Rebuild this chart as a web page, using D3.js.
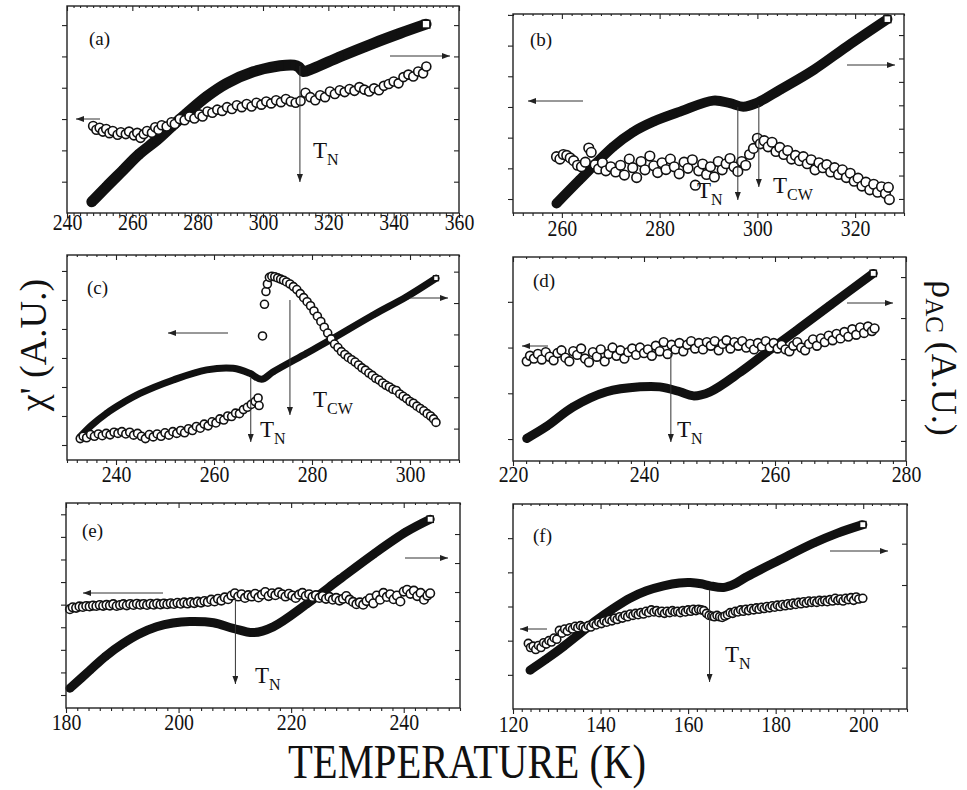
<!DOCTYPE html>
<html><head><meta charset="utf-8">
<script src="https://cdn.jsdelivr.net/npm/d3@7"></script>
<style>
body{margin:0;background:#fff}
</style>
</head><body>
<svg id="c" width="967" height="790" font-family="Liberation Serif"></svg>
<script>
// ---------------- DATA (T in K, values in arbitrary units) ----------------
const rhoA=[[247.6,0.36],[252,0.83],[257.2,1.37],[262,1.87],[267.5,2.33],[272,2.76],[276.6,3.18],[282.8,3.72],[288.9,4.14],[297,4.51],[305.2,4.70],[309.5,4.72],[311,4.66],[312.3,4.52],[315.4,4.62],[323.6,4.99],[333.8,5.42],[342,5.74],[349.9,6.03]];
const chiA=[[248,2.78],[249,2.66],[250,2.72],[251,2.60],[252,2.68],[253,2.55],[254,2.62],[255.5,2.50],[256.5,2.58],[258,2.52],[259,2.60],[260.5,2.48],[261.5,2.56],[262.5,2.40],[263.5,2.52],[264.5,2.62],[266,2.56],[267,2.74],[268,2.66],[269,2.80],[270.5,2.76],[272,2.90],[273,2.84],[274.5,3.00],[276,2.96],[277.5,3.08],[279,3.02],[280.5,3.15],[281.5,3.08],[283,3.24],[284.5,3.20],[286,3.30],[287.5,3.26],[289,3.38],[290.5,3.32],[292,3.44],[293.5,3.38],[295,3.48],[296.5,3.40],[298,3.52],[299.5,3.46],[301,3.56],[302.5,3.50],[304,3.60],[305.5,3.54],[307,3.64],[308.5,3.56],[310,3.52],[311.5,3.58],[313,3.84],[314.5,3.70],[316,3.60],[317.5,3.76],[319,3.70],[320.5,3.88],[322,3.80],[323.5,3.92],[325,3.86],[326.5,3.96],[328,3.90],[329.5,4.02],[331,3.94],[332.5,3.88],[334,3.98],[335.5,3.92],[337,4.06],[338.5,4.12],[340,4.20],[341.5,4.14],[343,4.34],[344.5,4.42],[346,4.36],[347.5,4.52],[349,4.46],[350,4.68]];

const rhoB=[[258.9,-0.19],[263.6,0.81],[270.5,2.23],[274.5,2.85],[278.7,3.30],[284.2,3.73],[291,4.20],[294.4,4.09],[297.1,3.94],[299.8,4.09],[304.6,4.66],[311.5,5.51],[318.3,6.51],[326.6,7.68]];
const chiB=[[258.9,1.38],[259.6,1.30],[260.3,1.45],[261,1.42],[261.7,1.34],[262.4,1.25],[263.2,1.10],[264,1.05],[264.8,1.20],[265.5,1.66],[266,1.52],[266.8,1.12],[267.5,0.98],[268.3,1.18],[269,0.92],[270,1.05],[271,0.88],[272,1.10],[272.8,0.78],[273.8,1.30],[274.5,1.02],[275.3,0.70],[276.2,1.22],[277,0.95],[278,1.40],[278.8,1.08],[279.6,0.86],[280.5,1.18],[281.3,0.96],[282.2,1.30],[283,1.05],[284,0.82],[285,1.20],[285.8,1.00],[286.7,1.28],[287.3,0.45],[288,0.92],[288.8,1.14],[289.6,0.80],[290.4,1.05],[291.2,0.72],[292,1.22],[292.8,0.95],[293.6,1.15],[294.4,1.32],[295.2,1.05],[296,0.90],[296.8,1.22],[297.6,1.10],[298.4,1.45],[299.2,1.65],[300,1.98],[300.6,1.80],[301.4,1.90],[302.2,1.70],[303,1.85],[303.8,1.55],[304.6,1.68],[305.4,1.45],[306.2,1.58],[307,1.30],[307.8,1.42],[308.6,1.25],[309.4,1.38],[310.2,1.15],[311,1.28],[311.8,0.95],[312.6,1.18],[313.4,1.02],[314.2,1.12],[315,0.88],[315.8,1.02],[316.6,0.80],[317.4,0.95],[318.2,0.70],[319,0.84],[319.8,0.58],[320.6,0.68],[321.4,0.42],[322.2,0.55],[323,0.30],[323.8,0.48],[324.6,0.22],[325.4,0.40],[326.2,0.18],[326.8,0.38],[327,-0.02]];

const rhoC=[[232.7,0.74],[235,1.10],[238.1,1.49],[241.5,1.83],[244.9,2.12],[251.7,2.55],[258.5,2.87],[263.9,2.92],[267.3,2.76],[269.7,2.57],[272.1,2.81],[278.9,3.40],[283.7,3.82],[292.5,4.62],[299.3,5.20],[305.3,5.79]];
const chiC=[[232.7,0.22],[233.3,0.30],[234,0.25],[234.8,0.36],[235.6,0.30],[236.4,0.38],[237.2,0.32],[238,0.40],[238.8,0.35],[239.6,0.44],[240.4,0.40],[241.2,0.46],[242,0.38],[242.8,0.44],[243.6,0.34],[244.4,0.40],[245.2,0.30],[246,0.22],[246.8,0.36],[247.6,0.28],[248.4,0.38],[249.2,0.30],[250,0.42],[250.8,0.34],[251.6,0.46],[252.4,0.40],[253.2,0.50],[254,0.42],[254.8,0.56],[255.6,0.50],[256.4,0.64],[257.2,0.58],[258,0.72],[258.8,0.66],[259.6,0.80],[260.4,0.76],[261.2,0.90],[262,0.86],[262.8,1.00],[263.6,0.98],[264.4,1.10],[265.2,1.08],[266,1.22],[266.8,1.30],[267.6,1.40],[268.4,1.50],[269,1.62],[269.2,1.36],[269.9,3.76],[270.3,4.85],[270.6,5.29],[270.9,5.55],[271.3,5.78],[271.8,5.82],[272.4,5.80],[273,5.76],[273.6,5.72],[274.2,5.68],[274.8,5.62],[275.5,5.55],[276.2,5.46],[276.9,5.36],[277.6,5.22],[278.3,5.08],[279,4.94],[279.7,4.80],[280.4,4.62],[281.1,4.44],[281.8,4.26],[282.5,4.06],[283.2,3.86],[283.9,3.66],[284.6,3.48],[285.3,3.36],[286,3.22],[286.7,3.12],[287.4,3.02],[288.1,2.94],[288.8,2.86],[289.5,2.76],[290.2,2.66],[290.9,2.58],[291.6,2.48],[292.3,2.40],[293,2.30],[293.7,2.24],[294.4,2.14],[295.1,2.06],[295.8,2.00],[296.5,1.92],[297.2,1.88],[297.9,1.76],[298.6,1.68],[299.3,1.60],[300,1.50],[300.7,1.44],[301.4,1.34],[302.1,1.26],[302.8,1.18],[303.5,1.08],[304.2,1.00],[304.8,0.90],[305.3,0.78]];

const rhoD=[[222.1,0.06],[225.1,0.35],[229.2,0.83],[234.3,1.20],[239.4,1.32],[242.4,1.32],[245.5,1.20],[247.5,1.10],[250.1,1.20],[254.7,1.68],[258.7,2.16],[263.3,2.70],[268.4,3.31],[275,4.09]];
const chiD=[[222.1,1.70],[222.6,1.82],[223.2,1.76],[223.8,1.86],[224.4,1.74],[225,1.90],[225.6,1.80],[226.2,1.72],[226.8,1.88],[227.4,1.94],[228,1.78],[228.6,1.70],[229.2,1.92],[229.8,1.84],[230.4,1.98],[231,1.76],[231.6,1.68],[232.2,1.90],[232.8,1.80],[233.4,1.96],[234,1.70],[234.6,1.86],[235.2,2.00],[235.8,1.82],[236.4,1.94],[237,1.76],[237.6,1.90],[238.2,1.98],[238.8,1.84],[239.4,2.00],[240,1.88],[240.6,1.96],[241.2,1.82],[241.8,2.04],[242.4,1.92],[243,2.12],[243.6,1.86],[244.2,2.06],[244.8,1.96],[245.4,2.10],[246,1.92],[246.6,2.06],[247.2,2.14],[247.8,1.98],[248.4,2.10],[249,1.96],[249.6,2.12],[250.2,2.04],[250.8,2.14],[251.4,1.94],[252,2.08],[252.6,2.16],[253.2,1.98],[253.8,2.12],[254.4,2.04],[255,2.14],[255.6,2.00],[256.2,2.08],[256.8,1.96],[257.4,2.10],[258,2.02],[258.6,2.14],[259.2,2.00],[259.8,2.10],[260.4,1.98],[261,2.06],[261.6,1.96],[262.2,1.92],[262.8,2.04],[263.4,2.12],[264,2.00],[264.6,1.94],[265.2,2.08],[265.8,2.18],[266.4,2.04],[267,2.20],[267.6,2.12],[268.2,2.26],[268.8,2.16],[269.4,2.30],[270,2.20],[270.6,2.34],[271.2,2.24],[271.8,2.40],[272.4,2.28],[273,2.44],[273.6,2.32],[274.2,2.46],[274.8,2.36],[275.2,2.42]];

const rhoE=[[180.7,0.68],[184.3,1.31],[187,1.78],[190.2,2.23],[193,2.55],[196.1,2.80],[199,2.93],[202,2.98],[206.2,2.94],[209.7,2.75],[213.3,2.60],[216.8,2.80],[222.8,3.59],[228.7,4.45],[234.6,5.30],[240.5,6.08],[244.7,6.51]];
const chiE=[[180.7,3.80],[181.2,3.88],[181.8,3.86],[182.4,3.92],[183,3.90],[183.6,3.94],[184.2,3.92],[184.8,3.96],[185.4,3.94],[186,3.98],[186.6,3.95],[187.2,3.99],[187.8,3.96],[188.4,4.02],[189,3.94],[189.6,3.98],[190.2,4.02],[190.8,3.97],[191.4,4.03],[192,3.99],[192.6,4.04],[193.2,4.00],[193.8,4.03],[194.4,3.99],[195,4.04],[195.6,4.00],[196.2,4.05],[196.8,4.01],[197.4,4.05],[198,4.02],[198.6,4.06],[199.2,4.03],[199.8,4.08],[200.4,4.04],[201,4.10],[201.6,4.05],[202.2,4.11],[202.8,4.07],[203.4,4.13],[204,4.09],[204.6,4.16],[205.2,4.12],[205.8,4.22],[206.4,4.14],[207,4.26],[207.6,4.18],[208.2,4.32],[208.8,4.24],[209.4,4.40],[210,4.50],[210.6,4.36],[211.2,4.46],[211.8,4.30],[212.4,4.42],[213,4.36],[213.6,4.48],[214.2,4.32],[214.8,4.44],[215.4,4.56],[216,4.38],[216.6,4.50],[217.2,4.42],[217.8,4.54],[218.4,4.46],[219,4.36],[219.6,4.48],[220.2,4.40],[220.8,4.30],[221.4,4.44],[222,4.52],[222.6,4.38],[223.2,4.46],[223.8,4.34],[224.4,4.42],[225,4.30],[225.6,4.38],[226.2,4.26],[226.8,4.34],[227.4,4.22],[228,4.30],[228.6,4.18],[229.2,4.26],[229.8,4.38],[230.4,4.22],[231,4.12],[231.6,4.02],[232.2,4.10],[232.8,4.00],[233.4,4.16],[234,4.28],[234.6,4.06],[235.2,4.40],[235.8,4.22],[236.4,4.52],[237,4.34],[237.6,4.46],[238.2,4.24],[238.8,4.40],[239.4,4.14],[240,4.58],[240.6,4.66],[241.2,4.48],[241.8,4.62],[242.4,4.38],[243,4.52],[243.6,4.22],[244.2,4.40],[244.7,4.50]];

const rhoF=[[123.9,0.94],[127.5,1.20],[131.5,1.51],[135.3,1.83],[139.1,2.15],[142.9,2.43],[146.7,2.68],[150.5,2.86],[154.4,2.98],[158,3.05],[160.5,3.06],[163,3.03],[165,2.98],[168.1,2.94],[170.5,3.02],[173.4,3.20],[181,3.61],[188.6,4.01],[194,4.25],[199.9,4.46]];
const chiF=[[123.5,1.92],[124,1.80],[124.6,1.84],[125.2,1.74],[125.8,1.86],[126.4,1.80],[127,1.94],[127.6,1.90],[128.2,2.00],[128.8,1.96],[129.4,2.08],[130,2.04],[130.6,2.30],[131.2,2.22],[131.8,2.34],[132.4,2.28],[133,2.38],[133.6,2.34],[134.2,2.42],[134.8,2.38],[135.4,2.44],[136,2.40],[136.6,2.36],[137.2,2.44],[137.8,2.40],[138.4,2.50],[139,2.46],[139.6,2.54],[140.2,2.50],[140.8,2.58],[141.4,2.54],[142,2.62],[142.6,2.58],[143.2,2.66],[143.8,2.62],[144.4,2.70],[145,2.66],[145.6,2.74],[146.2,2.70],[146.8,2.78],[147.4,2.74],[148,2.80],[148.6,2.76],[149.2,2.82],[149.8,2.78],[150.4,2.86],[151,2.82],[151.6,2.90],[152.2,2.84],[152.8,2.88],[153.4,2.82],[154,2.86],[154.6,2.80],[155.2,2.86],[155.8,2.82],[156.4,2.88],[157,2.84],[157.6,2.86],[158.2,2.82],[158.8,2.88],[159.4,2.84],[160,2.90],[160.6,2.86],[161.2,2.92],[161.8,2.88],[162.4,2.92],[163,2.90],[163.6,2.88],[164.2,2.80],[164.8,2.74],[165.4,2.72],[166,2.70],[166.6,2.74],[167.2,2.70],[167.8,2.68],[168.4,2.72],[169,2.76],[169.6,2.82],[170.2,2.80],[170.8,2.86],[171.4,2.84],[172,2.90],[172.6,2.86],[173.2,2.92],[173.8,2.88],[174.4,2.94],[175,2.90],[175.6,2.96],[176.2,2.92],[176.8,2.98],[177.4,2.94],[178,3.00],[178.6,2.96],[179.2,3.02],[179.8,2.98],[180.4,3.04],[181,3.00],[181.6,3.06],[182.2,3.02],[182.8,3.08],[183.4,3.04],[184,3.10],[184.6,3.06],[185.2,3.12],[185.8,3.08],[186.4,3.14],[187,3.10],[187.6,3.16],[188.2,3.12],[188.8,3.16],[189.4,3.12],[190,3.18],[190.6,3.14],[191.2,3.18],[191.8,3.14],[192.4,3.20],[193,3.16],[193.6,3.24],[194.2,3.18],[194.8,3.22],[195.4,3.16],[196,3.24],[196.6,3.20],[197.2,3.26],[197.8,3.18],[198.4,3.28],[199,3.22],[199.9,3.24]];

// x tick labels
const xTicksA=[240,260,280,300,320,340,360];
const xTicksB=[260,280,300,320];
const xTicksC=[240,260,280,300];
const xTicksD=[220,240,260,280];
const xTicksE=[180,200,220,240];
const xTicksF=[120,140,160,180,200];
// transition temperatures
const tN={a:311.3,b:296,c:267.5,d:244.1,e:210.1,f:164.9};
const tCW={b:300.3,c:275.5};

// ---------------- LAYOUT ----------------
const panels=[
 {key:'a',rho:rhoA,chi:chiA,xDom:[240,360],xTicks:xTicksA,yL:[0,6.61],yLT:[1,2,3,4,5,6],yR:[0,6.61],yRT:[1,2,3,4,5,6],
  box:{x0:67,x1:459,y0:6,y1:213},lab:17,band:11,r:4.5,
  tn:[66,182],tnLab:[313,158],la:[119,100,76],ra:[56,390,450],tag:[89,45]},
 {key:'b',rho:rhoB,chi:chiB,xDom:[250,330],xTicks:xTicksB,yL:[-0.456,6.03],yLT:[0,1,2,3,4,5,6],yR:[-0.6,7.9],yRT:[0,1,2,3,4,5,6,7],
  box:{x0:513,x1:904,y0:14,y1:213},lab:23,band:10,r:4.8,
  tn:[107,200],tnLab:[697,198],tcw:[105,187],tcwLab:[773,193],la:[101,583,528],ra:[65,847,895],tag:[530,46]},
 {key:'c',rho:rhoC,chi:chiC,xDom:[230,310],xTicks:xTicksC,yL:[-0.517,6.55],yLT:[0,1,2,3,4,5,6],yR:[0,6.53],yRT:[1,2,3,4,5,6],
  box:{x0:67,x1:459,y0:255,y1:460},lab:22,band:7,r:4.0,
  tn:[378,442],tnLab:[260,437],tcw:[300,415],tcwLab:[313,407],la:[333,228,168],ra:[298,410,448],tag:[87,294]},
 {key:'d',rho:rhoD,chi:chiD,xDom:[220,280],xTicks:xTicksD,yL:[-0.48,3.98],yLT:[0,1,2,3],yR:[-0.49,4.49],yRT:[0,1,2,3,4],
  box:{x0:513,x1:906,y0:257,y1:461},lab:21,band:9,r:4.4,
  tn:[353,442],tnLab:[677,437],la:[346,548,522],ra:[303,847,893],tag:[533,287]},
 {key:'e',rho:rhoE,chi:chiE,xDom:[180,250],xTicks:xTicksE,yL:[-0.575,8.5],yLT:[0,1,2,3,4,5,6,7,8],yR:[0,7.07],yRT:[1,2,3,4,5,6],
  box:{x0:66,x1:460,y0:503,y1:708},lab:22,band:9,r:4.3,
  tn:[598,684],tnLab:[255,683],la:[593,163,83],ra:[558,405,448],tag:[82,537]},
 {key:'f',rho:rhoF,chi:chiF,xDom:[120,210],xTicks:xTicksF,yL:[0,6.0],yLT:[1,2,3,4,5],yR:[0,4.96],yRT:[1,2,3,4],
  box:{x0:513,x1:907,y0:504,y1:709},lab:23,band:9,r:4.0,
  tn:[590,682],tnLab:[725,662],la:[629,547,520],ra:[551,830,888],tag:[533,542]}
];

const FONT="Liberation Serif";
const svg=d3.select('#c');
const defs=svg.append('defs');
defs.append('marker').attr('id','ah').attr('viewBox','0 0 8 6').attr('refX',8).attr('refY',3)
  .attr('markerWidth',8).attr('markerHeight',6).attr('markerUnits','userSpaceOnUse').attr('orient','auto')
  .append('path').attr('d','M0,0L8,3L0,6Z').attr('fill','#222');

function styleAxis(s){ s.attr('font-size',null).attr('font-family',FONT); s.select('.domain').remove(); s.selectAll('line').attr('stroke','#222').attr('stroke-width',1.1); }

panels.forEach(p=>{
  const b=p.box;
  const g=svg.append('g');
  const x=d3.scaleLinear().domain(p.xDom).range([b.x0,b.x1]);
  const yL=d3.scaleLinear().domain(p.yL).range([b.y1,b.y0]);
  const yR=d3.scaleLinear().domain(p.yR).range([b.y1,b.y0]);

  // rho (squares, right axis) — dense band
  const line=d3.line().x(d=>x(d[0])).y(d=>yR(d[1])).curve(d3.curveCatmullRom.alpha(0.5));
  g.append('path').datum(p.rho).attr('d',line).attr('fill','none').attr('stroke','#111')
    .attr('stroke-width',p.band).attr('stroke-linecap','round').attr('stroke-linejoin','round');
  const s=p.band*0.7;
  g.selectAll('rect.sq').data(p.rho).join('rect').attr('class','sq')
    .attr('x',d=>x(d[0])-s/2).attr('y',d=>yR(d[1])-s/2)
    .attr('width',s).attr('height',s)
    .attr('fill',(d,i)=>i===p.rho.length-1?'#fff':'#111')
    .attr('stroke',(d,i)=>i===p.rho.length-1?'#111':'none').attr('stroke-width',1.4);

  // chi (open circles, left axis)
  g.selectAll('circle').data(p.chi).join('circle')
    .attr('cx',d=>x(d[0])).attr('cy',d=>yL(d[1])).attr('r',p.r)
    .attr('fill','#fff').attr('stroke','#111').attr('stroke-width',1.6);

  // axes
  const minor=d3.range(Math.ceil(p.xDom[0]/2)*2,p.xDom[1]+0.01,2).filter(v=>!p.xTicks.includes(v));
  g.append('g').attr('transform',`translate(0,${b.y1})`).call(d3.axisBottom(x).tickValues(minor).tickSize(3).tickFormat('')).call(styleAxis);
  g.append('g').attr('transform',`translate(0,${b.y0})`).call(d3.axisTop(x).tickValues(minor).tickSize(-2).tickFormat('')).call(styleAxis);
  g.append('g').attr('transform',`translate(0,${b.y0})`).call(d3.axisTop(x).tickValues(p.xTicks).tickSize(-5).tickFormat('')).call(styleAxis);
  const xa=g.append('g').attr('transform',`translate(0,${b.y1})`).call(d3.axisBottom(x).tickValues(p.xTicks).tickSize(5).tickFormat(d3.format('d'))).call(styleAxis);
  xa.selectAll('text').attr('dy',null).attr('y',p.lab).attr('transform','scale(0.86,1)')
    .attr('font-family',FONT).style('font-size','23px').attr('fill','#111');
  g.append('g').attr('transform',`translate(${b.x0},0)`).call(d3.axisLeft(yL).tickValues(p.yLT).tickSize(5).tickFormat('')).call(styleAxis);
  g.append('g').attr('transform',`translate(${b.x1},0)`).call(d3.axisRight(yR).tickValues(p.yRT).tickSize(-5).tickFormat('')).call(styleAxis);
  g.append('rect').attr('x',b.x0).attr('y',b.y0).attr('width',b.x1-b.x0).attr('height',b.y1-b.y0)
    .attr('fill','none').attr('stroke','#222').attr('stroke-width',1.4);

  // annotations
  const arrow=(x1,y1,x2,y2)=>g.append('line').attr('x1',x1).attr('y1',y1).attr('x2',x2).attr('y2',y2)
     .attr('stroke','#333').attr('stroke-width',1).attr('marker-end','url(#ah)');
  arrow(x(tN[p.key]),p.tn[0],x(tN[p.key]),p.tn[1]);
  const sub=(pos,main,s)=>{const t=g.append('text').attr('x',pos[0]).attr('y',pos[1]).attr('font-family',FONT).attr('fill','#111').style('font-size','23px');
     t.append('tspan').text(main); t.append('tspan').attr('dy',7).style('font-size','16px').text(s);};
  sub(p.tnLab,'T','N');
  if(p.tcw){ arrow(x(tCW[p.key]),p.tcw[0],x(tCW[p.key]),p.tcw[1]); sub(p.tcwLab,'T','CW'); }
  arrow(p.la[1],p.la[0],p.la[2],p.la[0]);
  arrow(p.ra[1],p.ra[0],p.ra[2],p.ra[0]);
  g.append('text').attr('x',p.tag[0]).attr('y',p.tag[1]).attr('font-family',FONT).attr('fill','#111').style('font-size','19px').text(`(${p.key})`);
});

// global axis titles
svg.append('text').attr('transform','translate(46,345) rotate(-90)').attr('text-anchor','middle')
  .attr('font-family',FONT).attr('fill','#111').style('font-size','38px').text("\u03C7' (A.U.)");
const rt=svg.append('text').attr('transform','translate(932,358) rotate(90)').attr('text-anchor','middle')
  .attr('font-family',FONT).attr('fill','#111').style('font-size','36px');
rt.append('tspan').text('\u03C1');
rt.append('tspan').attr('dy',6).style('font-size','25px').text('AC');
rt.append('tspan').attr('dy',-6).text(' (A.U.)');
svg.append('text').attr('x',467).attr('y',778).attr('text-anchor','middle')
  .attr('font-family',FONT).attr('fill','#111').style('font-size','48px')
  .attr('textLength',358).attr('lengthAdjust','spacingAndGlyphs').text('TEMPERATURE (K)');
</script>
</body></html>
